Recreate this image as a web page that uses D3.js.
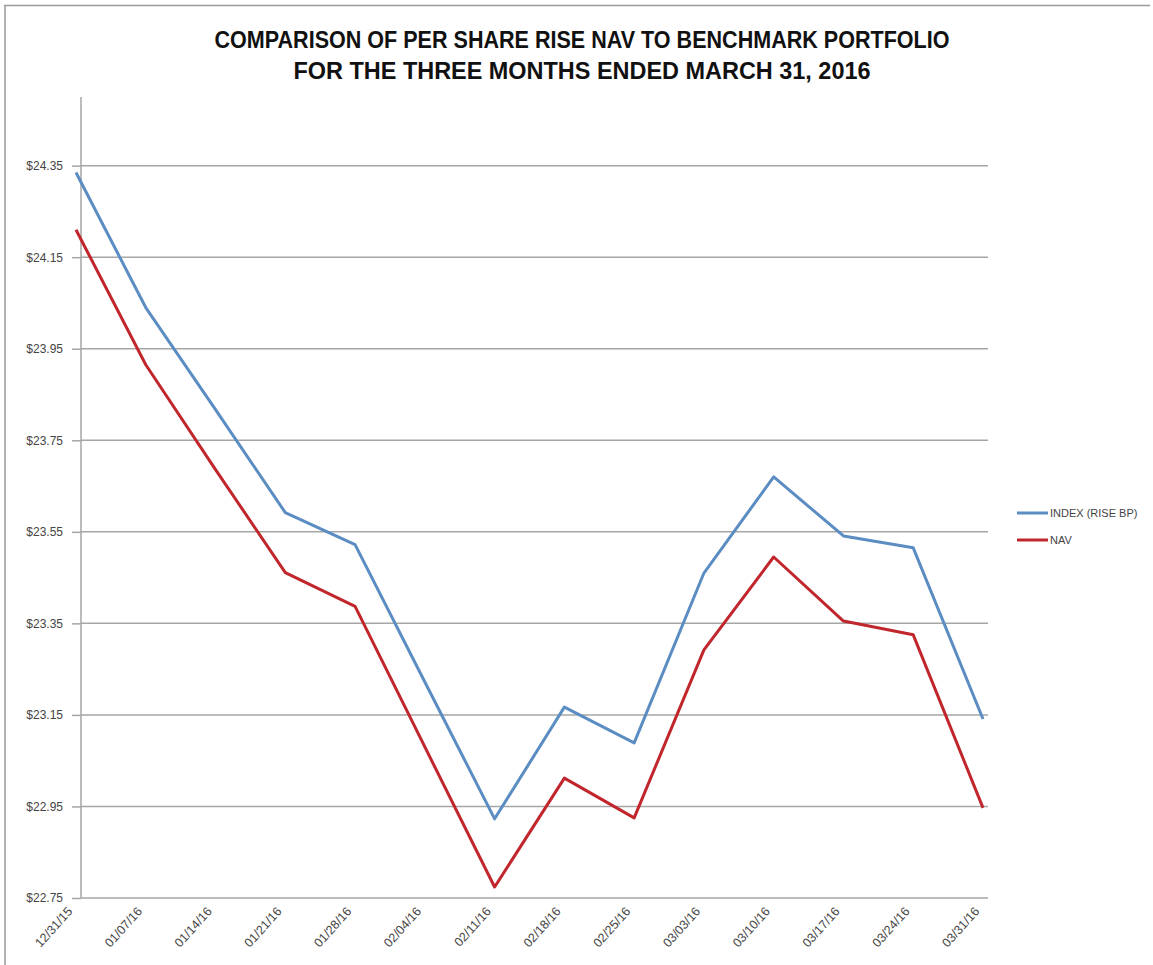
<!DOCTYPE html>
<html>
<head>
<meta charset="utf-8">
<script src="https://cdn.jsdelivr.net/npm/d3@7"></script>
<style>
  body { margin: 0; background: #fff; }
  text { font-family: "Liberation Sans", Arial, sans-serif; }
</style>
</head>
<body>
<div id="chart"></div>
<script>
// chart data
const dates = ["12/31/15", "01/07/16", "01/14/16", "01/21/16", "01/28/16", "02/04/16", "02/11/16",
  "02/18/16", "02/25/16", "03/03/16", "03/10/16", "03/17/16", "03/24/16", "03/31/16"];
const indexValues = [24.335, 24.040, 23.817, 23.592, 23.522, 23.222, 22.923,
  23.167, 23.089, 23.460, 23.670, 23.541, 23.515, 23.141];
const navValues = [24.210, 23.915, 23.686, 23.461, 23.387, 23.080, 22.774,
  23.012, 22.925, 23.292, 23.495, 23.355, 23.325, 22.947];
const yTicks = [22.75, 22.95, 23.15, 23.35, 23.55, 23.75, 23.95, 24.15, 24.35];
const seriesNames = ["INDEX (RISE BP)", "NAV"];
const titleLines = ["COMPARISON OF PER SHARE RISE NAV TO BENCHMARK PORTFOLIO",
  "FOR THE THREE MONTHS ENDED MARCH 31, 2016"];

function renderChart() {
  let dimensions = {
    width: 1153,
    height: 965,
    plot: { left: 81, right: 988, top: 97, bottom: 898 }
  };

  const svg = d3.select("#chart")
    .append("svg")
    .attr("width", dimensions.width)
    .attr("height", dimensions.height);

  // frame of the picture
  svg.append("line")
    .attr("x1", 4).attr("x2", 1150).attr("y1", 5.5).attr("y2", 5.5)
    .attr("stroke", "#9a9a9a").attr("stroke-width", 1.5);
  svg.append("line")
    .attr("x1", 5).attr("x2", 5).attr("y1", 5).attr("y2", 965)
    .attr("stroke", "#9a9a9a").attr("stroke-width", 1.5);

  // title (squeezed to the narrow width of the original face)
  const titleWidths = [735, 577];
  svg.append("g").selectAll("text")
    .data(titleLines)
    .join("text")
    .attr("x", 582)
    .attr("y", (d, i) => 48 + i * 31)
    .attr("text-anchor", "middle")
    .attr("textLength", (d, i) => titleWidths[i])
    .attr("lengthAdjust", "spacingAndGlyphs")
    .style("font-size", "23px")
    .style("font-weight", "bold")
    .attr("fill", "#111")
    .text(d => d);

  const p = dimensions.plot;

  // scales
  const x = d3.scalePoint()
    .domain(dates)
    .range([76, 983]);

  const y = d3.scaleLinear()
    .domain([22.75, 24.50])
    .range([p.bottom, p.top]);

  // gridlines
  svg.append("g")
    .selectAll("line")
    .data(yTicks)
    .join("line")
    .attr("x1", p.left)
    .attr("x2", p.right)
    .attr("y1", d => y(d))
    .attr("y2", d => y(d))
    .attr("stroke", "#a6a6a6")
    .attr("stroke-width", 1.5);

  // y axis
  const yAxis = svg.append("g")
    .attr("transform", `translate(${p.left}, 0)`)
    .call(d3.axisLeft(y).tickValues(yTicks).tickSize(9).tickFormat(d => "$" + d3.format(".2f")(d)));
  yAxis.select(".domain").remove();
  yAxis.selectAll(".tick line").attr("stroke", "#a6a6a6").attr("stroke-width", 1.5);
  yAxis.selectAll("text")
    .attr("x", -18)
    .attr("fill", "#444")
    .style("font-size", "12px")
    .style("font-family", "\"Liberation Sans\", sans-serif");

  svg.append("line")
    .attr("x1", p.left).attr("x2", p.left)
    .attr("y1", p.top).attr("y2", p.bottom)
    .attr("stroke", "#a6a6a6").attr("stroke-width", 1.5);

  // x axis labels
  const xAxis = svg.append("g")
    .attr("transform", `translate(0, ${p.bottom})`)
    .call(d3.axisBottom(x).tickSize(0));
  xAxis.select(".domain").remove();
  xAxis.selectAll("text")
    .attr("transform", "translate(-4,8)rotate(-48)")
    .attr("dy", "0.35em")
    .attr("y", 0)
    .attr("x", -4)
    .style("text-anchor", "end")
    .attr("fill", "#444")
    .style("font-size", "12.5px")
    .style("font-family", "\"Liberation Sans\", sans-serif");

  // lines
  const series = [
    { name: seriesNames[0], values: indexValues, color: "#5b8dc2" },
    { name: seriesNames[1], values: navValues, color: "#c0262c" }
  ];

  const line = d3.line()
    .x((d, i) => x(dates[i]))
    .y(d => y(d));

  svg.append("g")
    .selectAll("path")
    .data(series)
    .join("path")
    .attr("d", d => line(d.values))
    .attr("fill", "none")
    .attr("stroke", d => d.color)
    .attr("stroke-width", 3)
    .attr("stroke-linejoin", "round");

  // legend
  const legend = svg.append("g")
    .selectAll("g")
    .data(series)
    .join("g")
    .attr("transform", (d, i) => `translate(1017, ${513 + i * 27})`);
  legend.append("line")
    .attr("x1", 0).attr("x2", 31)
    .attr("stroke", d => d.color)
    .attr("stroke-width", 3);
  legend.append("text")
    .attr("x", 33)
    .attr("dy", "0.35em")
    .attr("fill", "#444")
    .style("font-size", "11px")
    .text(d => d.name);
}

renderChart();
</script>
</body>
</html>
